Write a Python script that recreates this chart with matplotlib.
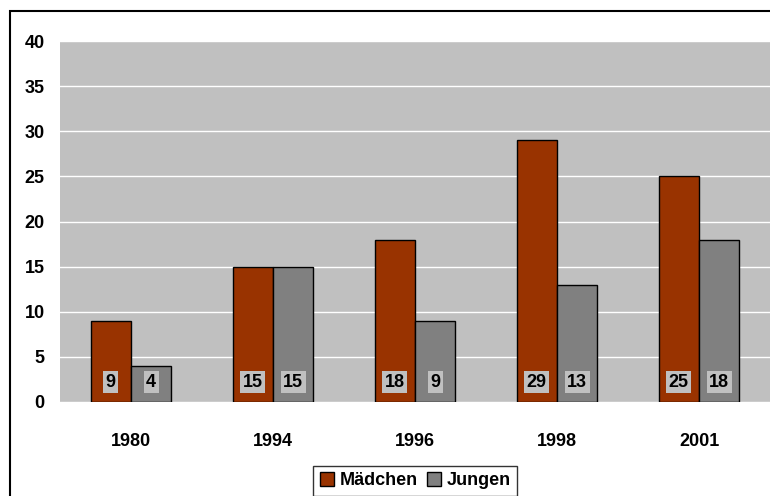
import matplotlib
matplotlib.use("Agg")
import matplotlib.pyplot as plt
from matplotlib.patches import Rectangle
import numpy as np

years = ["1980", "1994", "1996", "1998", "2001"]
maedchen = [9, 15, 18, 29, 25]
jungen = [4, 15, 9, 13, 18]
series_names = ["Mädchen", "Jungen"]
yticks = [0, 5, 10, 15, 20, 25, 30, 35, 40]

plt.rcParams['font.family'] = ['Liberation Sans', 'DejaVu Sans']
plt.rcParams['font.weight'] = 'bold'

fig = plt.figure(figsize=(7.7, 4.96), dpi=100)
ax = fig.add_axes([60/770, 1 - 402/496, 1 - 60/770, (402 - 41)/496])
ax.set_facecolor('#C0C0C0')

x = np.arange(len(years))
w = 0.285
b1 = ax.bar(x - w/2, maedchen, w, color='#993300', edgecolor='black', linewidth=1, label=series_names[0], zorder=3)
b2 = ax.bar(x + w/2, jungen, w, color='#808080', edgecolor='black', linewidth=1, label=series_names[1], zorder=3)

for xs, vals in ((x - w/2, maedchen), (x + w/2, jungen)):
    for xi, v in zip(xs, vals):
        ax.text(xi, 2.2, str(v), ha='center', va='center', fontsize=13, fontweight='bold',
                color='black', zorder=4,
                bbox=dict(boxstyle='square,pad=0.15', facecolor='#C0C0C0', edgecolor='none'))

ax.set_xlim(-0.5, len(years) - 0.5)
ax.set_ylim(0, 40)
ax.set_yticks(yticks)
ax.set_yticklabels([str(t) for t in yticks], fontsize=13, fontweight='bold')
ax.set_xticks(x)
ax.set_xticklabels(years, fontsize=13, fontweight='bold')
ax.tick_params(axis='y', length=0, pad=11)
ax.tick_params(axis='x', length=0, pad=22)
ax.yaxis.grid(True, color='white', linewidth=1, zorder=1)
ax.set_axisbelow(True)
for s in ax.spines.values():
    s.set_visible(False)

fig.legend(handles=[b1, b2], labels=series_names, loc='center', bbox_to_anchor=(0.539, 0.031),
           ncol=2, fontsize=13, frameon=True, fancybox=False, edgecolor='black',
           handlelength=0.8, handleheight=0.8, handletextpad=0.3, columnspacing=0.5,
           borderpad=0.35, borderaxespad=0)

fig.patches.append(Rectangle((10/770, -0.1), 1.2, 1 - 11/496 + 0.1, transform=fig.transFigure,
                             fill=False, edgecolor='black', linewidth=1.5, clip_on=False))

fig.savefig('out.png', dpi=100, facecolor='white')
